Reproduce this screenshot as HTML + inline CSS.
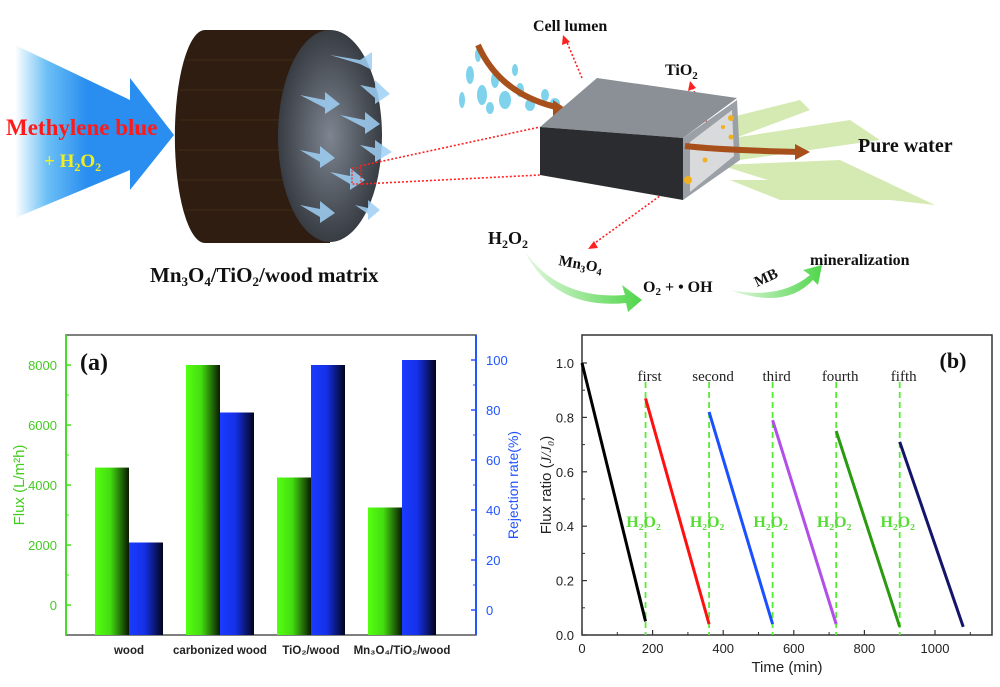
<!DOCTYPE html>
<html><head><meta charset="utf-8"><style>
html,body{margin:0;padding:0;background:#fff;}
svg{display:block;}
.serif{font-family:"Liberation Serif",serif;font-weight:bold;}
.serifn{font-family:"Liberation Serif",serif;font-weight:normal;}
.sans{font-family:"Liberation Sans",sans-serif;}
</style></head><body>
<svg id="fig" width="1000" height="687" viewBox="0 0 1000 687" xmlns="http://www.w3.org/2000/svg">
<defs>
<linearGradient id="blueArrow" x1="0" x2="1" y1="0" y2="0">
<stop offset="0" stop-color="#ffffff"/><stop offset="0.2" stop-color="#6cc0f5"/><stop offset="0.45" stop-color="#2a8ef0"/><stop offset="1" stop-color="#2a8ef0"/></linearGradient>
<linearGradient id="gBar" x1="0" x2="1"><stop offset="0" stop-color="#55ff10"/><stop offset="0.45" stop-color="#44dd10"/><stop offset="1" stop-color="#0a1a02"/></linearGradient>
<linearGradient id="bBar" x1="0" x2="1"><stop offset="0" stop-color="#1a3cff"/><stop offset="0.45" stop-color="#1530e8"/><stop offset="1" stop-color="#02041a"/></linearGradient>
<linearGradient id="greenArr" x1="0" x2="1"><stop offset="0" stop-color="#e4f7e0"/><stop offset="1" stop-color="#4fd64a"/></linearGradient>
<radialGradient id="face" cx="0.5" cy="0.5" r="0.6"><stop offset="0" stop-color="#7d8590"/><stop offset="1" stop-color="#2a2d33"/></radialGradient>
</defs>

<g>
<polygon points="15,45 130,100 130,78 174,135 130,190 130,170 15,218" fill="url(#blueArrow)"/>
<text class="serif" x="6" y="135" font-size="23" fill="#ff1a1a">Methylene blue</text>
<text class="serif" x="44" y="167" font-size="19" fill="#f0f020">+ H<tspan font-size="12" dy="4">2</tspan><tspan dy="-4">O</tspan><tspan font-size="12" dy="4">2</tspan></text>

<g>
<path d="M205,30 L330,30 L330,243 L205,243 A30,106 0 0 1 205,30 Z" fill="#2e1d10"/>
<g stroke="#4a3018" stroke-width="1" opacity="0.7">
<line x1="185" y1="60" x2="320" y2="60"/><line x1="180" y1="90" x2="320" y2="90"/><line x1="178" y1="120" x2="320" y2="120"/><line x1="178" y1="150" x2="320" y2="150"/><line x1="180" y1="180" x2="320" y2="180"/><line x1="185" y1="210" x2="320" y2="210"/></g>
<ellipse cx="330" cy="136" rx="52" ry="106" fill="url(#face)"/>
<g fill="#9fd0f5" opacity="0.85">
<polygon points="330,55 360,60 372,52 372,70 360,64"/>
<polygon points="300,95 325,100 325,92 340,104 325,114 325,108"/>
<polygon points="340,115 365,120 365,112 380,124 365,134 365,128"/>
<polygon points="300,150 320,154 320,146 335,158 320,168 320,162"/>
<polygon points="330,172 350,176 350,168 365,180 350,190 350,184"/>
<polygon points="300,205 320,209 320,201 335,213 320,223 320,217"/>
<polygon points="360,85 375,88 375,80 390,94 375,104 375,98"/>
<polygon points="360,145 375,148 375,140 392,152 375,162 375,156"/>
<polygon points="355,205 368,208 368,200 380,210 368,220 368,214"/>
</g>
<rect x="352" y="168" width="9" height="16" fill="none" stroke="#ff2020" stroke-width="1.2" stroke-dasharray="2,1.5"/>
</g>
<text class="serif" x="150" y="282" font-size="21" fill="#111">Mn<tspan font-size="13" dy="4">3</tspan><tspan dy="-4">O</tspan><tspan font-size="13" dy="4">4</tspan><tspan dy="-4">/TiO</tspan><tspan font-size="13" dy="4">2</tspan><tspan dy="-4">/wood matrix</tspan></text>

<g stroke="#ff2020" stroke-width="1.6" stroke-dasharray="2,2" fill="none">
<line x1="360" y1="166" x2="540" y2="127"/><line x1="362" y1="184" x2="540" y2="175"/>
<line x1="582" y1="78" x2="566" y2="40"/><line x1="710" y1="130" x2="692" y2="86"/><line x1="682" y1="180" x2="592" y2="245"/>
<circle cx="709" cy="132" r="6"/><circle cx="688" cy="181" r="6"/>
</g>
<g fill="#ff2020"><polygon points="563,35 562,45 570,42"/><polygon points="690,81 688,91 696,88"/><polygon points="588,249 598,248 594,241"/></g>

<g fill="#5fc8e8" opacity="0.8">
<ellipse cx="470" cy="75" rx="4" ry="9"/><ellipse cx="482" cy="95" rx="5" ry="10"/><ellipse cx="495" cy="80" rx="4" ry="8"/><ellipse cx="505" cy="100" rx="6" ry="9"/><ellipse cx="520" cy="90" rx="4" ry="7"/><ellipse cx="530" cy="105" rx="5" ry="6"/><ellipse cx="545" cy="95" rx="4" ry="6"/><ellipse cx="555" cy="103" rx="5" ry="5"/><ellipse cx="462" cy="100" rx="3" ry="8"/><ellipse cx="490" cy="108" rx="4" ry="6"/><ellipse cx="515" cy="70" rx="3" ry="6"/><ellipse cx="478" cy="55" rx="3" ry="7"/>
</g>
<path d="M478,45 Q500,95 560,108" stroke="#a8501c" stroke-width="6" fill="none"/>
<polygon points="553,100 568,110 553,118" fill="#a8501c"/>

<g fill="#bfe08a" opacity="0.65">
<polygon points="720,120 800,100 810,110 730,140"/><polygon points="720,140 850,120 880,140 740,160"/><polygon points="720,165 840,160 935,205 800,190"/><polygon points="730,180 830,180 900,200 780,200"/>
</g>

<g>
<polygon points="540,127 597,78 737,98 683,138" fill="#8a9096"/>
<polygon points="540,127 683,138 683,200 540,175" fill="#2a2c30"/>
<polygon points="683,138 737,100 740,160 683,200" fill="#9aa0a6"/>
<polygon points="690,142 732,110 734,156 690,192" fill="#d8dadc"/>
<g fill="#f0b020"><circle cx="731" cy="118" r="3"/><circle cx="723" cy="127" r="2"/><circle cx="731" cy="137" r="2.5"/><circle cx="688" cy="180" r="4"/><circle cx="705" cy="160" r="2.5"/></g>
</g>
<path d="M685,146 Q720,150 800,152" stroke="#a8501c" stroke-width="6" fill="none"/>
<polygon points="795,144 810,152 795,160" fill="#a8501c"/>

<text class="serif" x="533" y="31" font-size="16" fill="#111">Cell lumen</text>
<text class="serif" x="665" y="75" font-size="16" fill="#111">TiO<tspan font-size="11" dy="4">2</tspan></text>
<text class="serif" x="858" y="152" font-size="20" fill="#111">Pure water</text>
<text class="serif" x="488" y="244" font-size="18" fill="#111">H<tspan font-size="12" dy="4">2</tspan><tspan dy="-4">O</tspan><tspan font-size="12" dy="4">2</tspan></text>
<text class="serif" x="558" y="265" font-size="15" fill="#111" transform="rotate(10 558 265)">Mn<tspan font-size="10" dy="3">3</tspan><tspan dy="-3">O</tspan><tspan font-size="10" dy="3">4</tspan></text>
<text class="serif" x="643" y="292" font-size="16" fill="#111">O<tspan font-size="11" dy="3">2</tspan><tspan dy="-3"> +  • OH</tspan></text>
<text class="serif" x="757" y="287" font-size="15" fill="#111" transform="rotate(-25 757 287)">MB</text>
<text class="serif" x="810" y="265" font-size="16" fill="#111">mineralization</text>
<path d="M525,252 Q560,300 625,295 L622,285 L642,300 L628,312 L626,303 Q555,310 525,252 Z" fill="url(#greenArr)"/>
<path d="M730,290 Q780,300 810,275 L803,270 L822,265 L818,285 L813,280 Q785,310 730,290 Z" fill="url(#greenArr)"/>
</g>

<g id="chartA"></g>
<g id="chartB"></g>
</svg>

<script>
const NS='http://www.w3.org/2000/svg';
// Chart (a) data
const catsA=['wood','carbonized wood','TiO\u2082/wood','Mn\u2083O\u2084/TiO\u2082/wood'];
const fluxVals=[4580,8000,4250,3250];
const rejVals=[27,79,98,100];
const fluxTicks=[0,2000,4000,6000,8000];
const rejTicks=[0,20,40,60,80,100];
// Chart (b) data
const segStartT=[0,180,360,540,720,900];
const segEndT=[180,360,540,720,900,1080];
const segStartV=[1.0,0.87,0.82,0.79,0.75,0.71];
const segEndV=[0.05,0.04,0.04,0.04,0.03,0.03];
const segColors=['#000000','#ff1010','#1a50ff','#b050e8','#2a9a10','#14146a'];
const cycleLabels=['first','second','third','fourth','fifth'];
const cycleTimes=[180,360,540,720,900];
const xTicksB=[0,200,400,600,800,1000];
const yTicksB=[0,0.2,0.4,0.6,0.8,1.0];

function mk(parent,tag,attrs,text){const e=document.createElementNS(NS,tag);for(const k in attrs)e.setAttribute(k,attrs[k]);if(text!==undefined)e.textContent=text;parent.appendChild(e);return e;}

(function(){
const g=document.getElementById('chartA');
const L=66,R=476,T=335,B=635;
const yF=v=>605-v*0.03;
const yR=v=>610-v*2.5;
const cx=i=>129+i*91;
const bw=34;
const frame=mk(g,'rect',{x:L,y:T,width:R-L,height:B-T,fill:'none',stroke:'#555','stroke-width':1.5});


mk(g,'line',{x1:L,y1:T,x2:L,y2:B,stroke:'#44dd22','stroke-width':2});
mk(g,'line',{x1:R,y1:T,x2:R,y2:B,stroke:'#2255ff','stroke-width':2});
fluxTicks.forEach(v=>{const y=yF(v);mk(g,'line',{x1:L,y1:y,x2:L+5,y2:y,stroke:'#44dd22','stroke-width':1.5});
const t=mk(g,'text',{x:57,y:y+5,'text-anchor':'end','font-size':13,fill:'#44cc22',class:'sans'},String(v));
});
for(let v=1000;v<=8000;v+=2000){const y=yF(v);mk(g,'line',{x1:L,y1:y,x2:L+3,y2:y,stroke:'#44dd22','stroke-width':1});}
rejTicks.forEach(v=>{const y=yR(v);mk(g,'line',{x1:R-5,y1:y,x2:R,y2:y,stroke:'#2255ff','stroke-width':1.5});
const t=mk(g,'text',{x:486,y:y+5,'font-size':13,fill:'#2255ff',class:'sans'},String(v));
});
for(let v=10;v<=100;v+=20){const y=yR(v);mk(g,'line',{x1:R-3,y1:y,x2:R,y2:y,stroke:'#2255ff','stroke-width':1});}
catsA.forEach((c,i)=>{
const fy=yF(fluxVals[i]);
const b1=mk(g,'rect',{x:cx(i)-bw,y:fy,width:bw,height:B-fy,fill:'url(#gBar)'});

const ry=yR(rejVals[i]);
const b2=mk(g,'rect',{x:cx(i),y:ry,width:bw,height:B-ry,fill:'url(#bBar)'});

const t=mk(g,'text',{x:cx(i),y:654,'text-anchor':'middle','font-size':11.5,'font-weight':'bold',fill:'#222',class:'sans'},c);

});
const yl=mk(g,'text',{x:0,y:0,transform:'translate(24,485) rotate(-90)','text-anchor':'middle','font-size':15,fill:'#44cc22',class:'sans'},'Flux (L/m\u00B2h)');

const yr=mk(g,'text',{x:0,y:0,transform:'translate(518,485) rotate(-90)','text-anchor':'middle','font-size':14,fill:'#2255ff',class:'sans'},'Rejection rate(%)');

const pl=mk(g,'text',{x:80,y:370,'font-size':24,'font-weight':'bold',fill:'#111',class:'serif'},'(a)');

})();

(function(){
const g=document.getElementById('chartB');
const L=582,R=992,T=335,B=635;
const xS=t=>582+t*0.353;
const yS=v=>635-v*272;
const frame=mk(g,'rect',{x:L,y:T,width:R-L,height:B-T,fill:'none',stroke:'#333','stroke-width':1.5});

xTicksB.forEach(v=>{const x=xS(v);mk(g,'line',{x1:x,y1:B,x2:x,y2:B-5,stroke:'#333','stroke-width':1.2});
const t=mk(g,'text',{x:x,y:653,'text-anchor':'middle','font-size':13,fill:'#222',class:'sans'},String(v));
});
for(let v=100;v<=1100;v+=200){const x=xS(v);mk(g,'line',{x1:x,y1:B,x2:x,y2:B-3,stroke:'#333'});}
yTicksB.forEach(v=>{const y=yS(v);mk(g,'line',{x1:L,y1:y,x2:L+5,y2:y,stroke:'#333','stroke-width':1.2});
const t=mk(g,'text',{x:574,y:y+5,'text-anchor':'end','font-size':13,fill:'#222',class:'sans'},v.toFixed(1));
});
for(let v=0.1;v<1.05;v+=0.2){const y=yS(v);mk(g,'line',{x1:L,y1:y,x2:L+3,y2:y,stroke:'#333'});}
cycleTimes.forEach((t0,i)=>{
const x=xS(t0);
const d=mk(g,'line',{x1:x,y1:yS(0.93),x2:x,y2:B,stroke:'#55ee33','stroke-width':1.8,'stroke-dasharray':'6,4'});

const lb=mk(g,'text',{x:x+4,y:381,'text-anchor':'middle','font-size':15,fill:'#222',class:'serifn'},cycleLabels[i]);

const h=mk(g,'text',{x:x-2,y:527,'text-anchor':'middle','font-size':16,fill:'#55dd33',class:'serif'},'H\u2082O\u2082');

});
segStartT.forEach((t0,i)=>{
const s=mk(g,'line',{x1:xS(t0),y1:yS(segStartV[i]),x2:xS(segEndT[i]),y2:yS(segEndV[i]),stroke:segColors[i],'stroke-width':3});

});
const xt=mk(g,'text',{x:787,y:672,'text-anchor':'middle','font-size':15,fill:'#222',class:'sans'},'Time (min)');

const yt=mk(g,'text',{x:0,y:0,transform:'translate(551,485) rotate(-90)','text-anchor':'middle','font-size':15,fill:'#222',class:'sans'});

yt.appendChild(document.createTextNode('Flux ratio ('));
mk(yt,'tspan',{'font-style':'italic','font-family':'Liberation Serif, serif'},'J/J\u2080');
yt.appendChild(document.createTextNode(')'));
const pl=mk(g,'text',{x:953,y:368,'text-anchor':'middle','font-size':22,'font-weight':'bold',fill:'#111',class:'serif'},'(b)');

})();
</script>
</body></html>
